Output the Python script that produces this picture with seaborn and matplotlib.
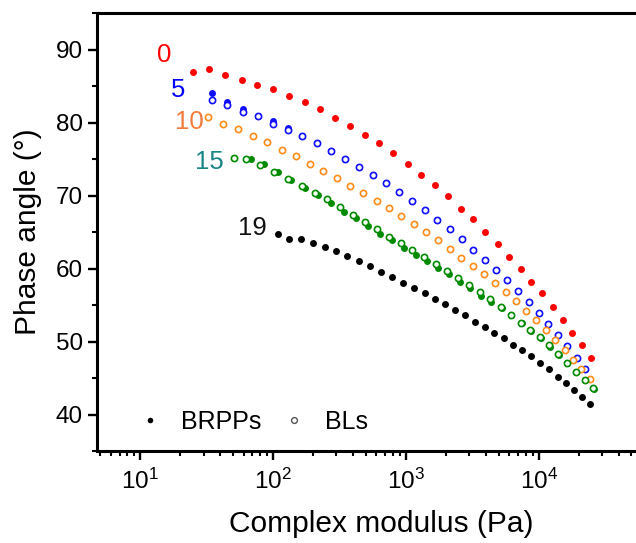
import matplotlib
matplotlib.use("Agg")
import matplotlib.pyplot as plt
import matplotlib.ticker as mticker
from matplotlib.lines import Line2D
import seaborn as sns
import pandas as pd

# ---------------- data (complex modulus in Pa, phase angle in degrees) ----------------
x_0 = [24.9, 33.1, 43.7, 58.3, 75.7, 99.8, 131.8, 172.6, 223.9, 290.4, 378.4, 488.7, 631, 807,
       1030, 1306, 1644, 2061, 2582, 3221, 3963, 4909, 6012, 7311, 8790, 10593, 12735, 15136,
       17906, 21038, 24604]
y_0 = [87.0, 87.4, 86.6, 85.8, 85.2, 84.6, 83.7, 82.8, 81.9, 80.6, 79.6, 78.3, 77.2, 75.8,
       74.4, 72.9, 71.5, 69.9, 68.2, 66.8, 65.0, 63.4, 61.6, 60.0, 58.2, 56.6, 54.7, 52.9,
       51.2, 49.5, 47.8]

x_5 = [34.8, 45.2, 58.9, 76.4, 99.1, 128.5, 165.2, 212.8, 272.9, 349.9, 444.6, 561.0, 709.6,
       891, 1112, 1400, 1722, 2133, 2642, 3221, 3917, 4732, 5768, 6982, 8395, 9977, 11803,
       13964, 16406, 19275, 22439]
y_5_bl = [83.15, 82.4, 81.5, 80.9, 79.9, 79.0, 78.2, 77.2, 76.1, 75.0, 74.0, 72.8, 71.7, 70.5,
          69.3, 68.0, 66.7, 65.4, 64.0, 62.6, 61.2, 59.8, 58.4, 57.0, 55.4, 53.9, 52.4, 50.9,
          49.4, 47.8, 46.3]
y_5_rp = [84.1, 82.9, 81.9, 80.9, 80.2, 79.3, 78.2, 77.2, 76.1, 75.0, 74.0, 72.8, 71.7, 70.5,
          69.3, 68.0, 66.7, 65.4, 64.0, 62.6, 61.2, 59.8, 58.4, 57.0, 55.4, 53.9, 52.4, 50.9,
          49.4, 47.8, 46.3]

x_10 = [32.4, 42.2, 54.5, 70.6, 90.4, 115.9, 148.6, 188.4, 238.8, 302.7, 381.1, 477.5, 601.2,
        746.4, 922.6, 1151, 1426, 1746, 2133, 2624, 3177, 3873, 4656, 5636, 6776, 8017, 9550,
        11272, 13335, 15668, 18239, 20941, 24491]
y_10 = [80.8, 79.9, 79.1, 78.2, 77.4, 76.3, 75.4, 74.4, 73.4, 72.4, 71.4, 70.4, 69.3, 68.3,
        67.2, 66.1, 65.0, 63.9, 62.7, 61.5, 60.4, 59.3, 58.1, 56.8, 55.5, 54.2, 52.9, 51.6,
        50.2, 48.8, 47.5, 46.2, 44.9]

x_15_bl = [50.5, 62.5, 80.2, 101.6, 128.5, 164.1, 205.6, 255.9, 320.6, 397.2, 496.6, 609.5,
           746.4, 918.3, 1122, 1377, 1675, 2037, 2466, 2985, 3589, 4266, 5164, 6138, 7362,
           8650, 10233, 12023, 14060, 16331, 19099, 22182, 25763]
y_15_bl = [75.2, 75.0, 74.2, 73.3, 72.3, 71.3, 70.4, 69.5, 68.4, 67.4, 66.4, 65.4, 64.4, 63.5,
           62.5, 61.6, 60.7, 59.7, 58.7, 57.8, 56.8, 55.8, 54.8, 53.7, 52.6, 51.6, 50.6, 49.5,
           48.3, 47.1, 45.9, 44.8, 43.6]
x_15_rp = [67.8, 85.9, 109.4, 137.7, 173.8, 218.8, 274.2, 339.6, 419.8, 521.2, 641.2, 785.2,
           961.6, 1183, 1432, 1746, 2113, 2553, 3041, 3698, 4395, 5260, 6237, 7447, 8750,
           10328, 12134, 14191, 16482, 19231, 22336, 25942]
y_15_rp = [75.1, 74.4, 73.2, 72.1, 71.1, 70.1, 69.0, 67.8, 66.9, 65.8, 64.8, 63.9, 62.9, 61.9,
           61.0, 60.1, 59.2, 58.2, 57.4, 56.3, 55.4, 54.6, 53.6, 52.5, 51.5, 50.5, 49.3, 48.2,
           47.0, 45.8, 44.7, 43.5]

x_19 = [108.9, 133.0, 162.2, 198.2, 244.3, 296.5, 362.2, 441.6, 539.5, 650.1, 779.8, 950.6,
        1151, 1384, 1644, 1968, 2355, 2799, 3311, 3917, 4634, 5445, 6397, 7534, 8790, 10280,
        11967, 13868, 16069, 18450, 21038, 24322]
y_19 = [64.8, 64.1, 64.0, 63.5, 63.0, 62.4, 61.7, 61.1, 60.3, 59.6, 58.8, 58.1, 57.4, 56.6,
        55.8, 55.1, 54.3, 53.6, 52.7, 52.0, 51.2, 50.5, 49.6, 48.8, 48.0, 47.1, 46.2, 45.2,
        44.3, 43.3, 42.4, 41.5]

series_labels = ["0", "5", "10", "15", "19"]
label_x = [15.2, 19.4, 23.5, 33.3, 69.3]
label_y = [88.37, 83.58, 79.15, 73.63, 64.63]
label_colors = ["#ff0000", "#0000ff", "#f27a3a", "#1a8585", "#111111"]

legend_labels = ["BRPPs", "BLs"]
x_label = "Complex modulus (Pa)"
y_label = "Phase angle (°)"

# ---------------- style ----------------
sns.set_style("white")
plt.rcParams["font.family"] = ["Liberation Sans", "DejaVu Sans"]
plt.rcParams["mathtext.fontset"] = "custom"
plt.rcParams["mathtext.rm"] = "Liberation Sans"
plt.rcParams["mathtext.it"] = "Liberation Sans:italic"
plt.rcParams["mathtext.bf"] = "Liberation Sans:bold"
plt.rcParams["text.color"] = "black"
plt.rcParams["axes.labelcolor"] = "black"
plt.rcParams["xtick.color"] = "black"
plt.rcParams["ytick.color"] = "black"

fig = plt.figure(figsize=(6.36, 5.43), dpi=100)
ax = fig.add_axes([0.153, 0.1694, 0.8932, 0.806])

RED = "#ff0000"
BLUE = "#1010ff"
ORANGE = "#ff8c1a"
GREEN = "#008a00"
BLACK = "#000000"

S_FILL = 25
S_OPEN = 20
LW_OPEN = 1.2

def filled(x, y, c, z=3):
    sns.scatterplot(x=x, y=y, ax=ax, color=c, s=S_FILL, linewidth=0, marker="o", zorder=z)

def opened(x, y, c, z=4):
    sns.scatterplot(x=x, y=y, ax=ax, color="white", edgecolor=c, s=S_OPEN,
                    linewidth=LW_OPEN, marker="o", zorder=z)

filled(x_0, y_0, RED)
filled(x_5, y_5_rp, BLUE)
opened(x_5, y_5_bl, BLUE)
opened(x_10, y_10, ORANGE)
filled(x_15_rp, y_15_rp, GREEN)
opened(x_15_bl, y_15_bl, GREEN)
filled(x_19, y_19, BLACK)

for t, tx, ty, tc in zip(series_labels, label_x, label_y, label_colors):
    ax.text(tx, ty, t, color=tc, fontsize=18.5, ha="center", va="baseline")

# ---------------- axes ----------------
ax.set_xscale("log")
ax.set_xlim(4.75, 9e4)
ax.set_ylim(35, 95)
ax.yaxis.set_major_locator(mticker.MultipleLocator(10))
ax.yaxis.set_minor_locator(mticker.MultipleLocator(5))
ax.xaxis.set_major_locator(mticker.LogLocator(base=10, numticks=10))
ax.xaxis.set_minor_locator(mticker.LogLocator(base=10, subs=[2, 3, 4, 5, 6, 7, 8, 9], numticks=20))
ax.xaxis.set_minor_formatter(mticker.NullFormatter())

for sp in ax.spines.values():
    sp.set_visible(True)
    sp.set_linewidth(2.2)
    sp.set_color("black")

ax.tick_params(axis="both", which="both", bottom=True, left=True, top=False, right=False)
ax.tick_params(axis="both", which="major", direction="out", length=6.5, width=1.7,
               labelsize=17.5, colors="black", pad=4)
ax.tick_params(axis="both", which="minor", direction="out", length=3.3, width=1.5, colors="black")
ax.tick_params(axis="x", which="major", pad=6)

ax.set_xlabel(x_label, fontsize=21.5, labelpad=12, color="black")
ax.set_ylabel(y_label, fontsize=21.5, labelpad=10, color="black")

handles = [
    Line2D([], [], linestyle="none", marker="o", markersize=4, markerfacecolor="black",
           markeredgecolor="black", markeredgewidth=0),
    Line2D([], [], linestyle="none", marker="o", markersize=4.2, markerfacecolor="white",
           markeredgecolor="#555555", markeredgewidth=1.0),
]
leg = ax.legend(handles, legend_labels, loc="lower left", bbox_to_anchor=(0.07, 0.04), ncol=2,
                frameon=False, fontsize=18, handlelength=1.0, handletextpad=0.75,
                columnspacing=0.8, borderpad=0, borderaxespad=0)
for t in leg.get_texts():
    t.set_color("black")

fig.savefig("out.png", dpi=100)
